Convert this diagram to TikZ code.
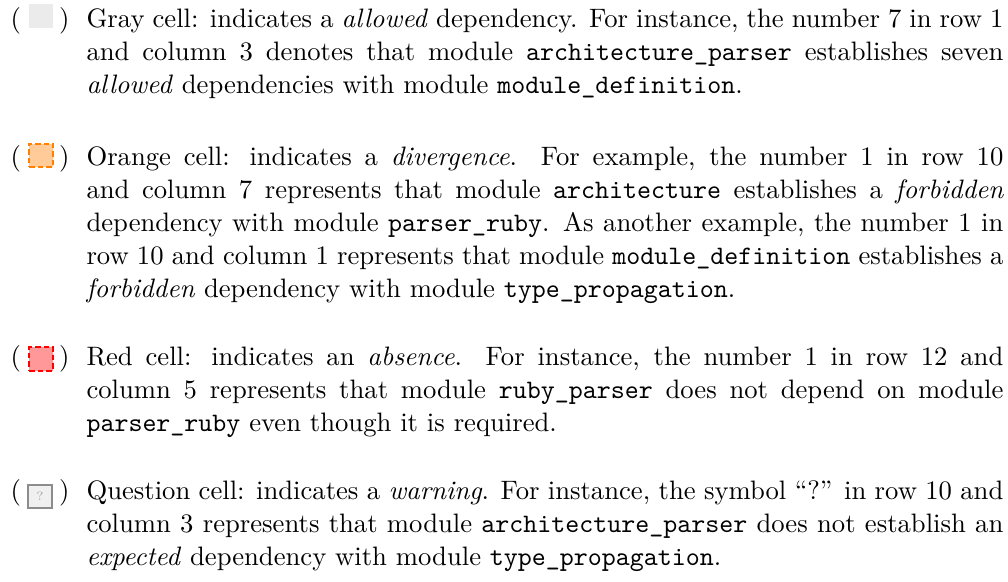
\documentclass[tikz,border=0pt]{standalone}
\usepackage{xcolor}
\usetikzlibrary{positioning}

\definecolor{cellgray}{HTML}{EBEBEB}
\definecolor{divfill}{HTML}{FFCC99}
\definecolor{divline}{HTML}{FF8000}
\definecolor{absfill}{HTML}{FF9999}
\definecolor{absline}{HTML}{FF0000}
\definecolor{warnfill}{HTML}{F0F0F0}
\definecolor{warnline}{HTML}{8C8C8C}

\begin{document}
\begin{tikzpicture}[x=0.3752pt,y=-0.3752pt,
    desc/.style={anchor=base west, inner sep=0pt, text width=344pt, align=justify,
        font=\fontsize{10pt}{12.45pt}\selectfont},
    paren/.style={inner sep=0pt, font=\fontsize{10pt}{12pt}\selectfont},
    cell/.style={inner sep=0pt, minimum size=8.9pt},
    dashcell/.style={cell, line width=0.75pt, dash pattern=on 2.1pt off 1.1pt}]
    \useasboundingbox (0,0) rectangle (1008,582);

    % Gray cell
    \node[paren, anchor=base west] (allowedl) at (10,27) {(};
    \node[paren, anchor=base east] (allowedr) at (70,27) {)};
    \node[cell, fill=cellgray] (allowedcell) at (41,16) {};
    \node[desc] (allowedtxt) at (86,27) {Gray cell: indicates a \emph{allowed} dependency. For instance, the number 7 in row 1\linebreak and column 3 denotes that module \texttt{architecture\_parser} establishes seven \emph{allowed} dependencies with module \texttt{module\_definition}.};

    % Orange cell
    \node[paren, anchor=base west] (divl) at (10,165) {(};
    \node[paren, anchor=base east] (divr) at (70,165) {)};
    \node[dashcell, fill=divfill, draw=divline] (divcell) at (41,155.5) {};
    \node[desc] (divtxt) at (86,165) {Orange cell: indicates a \emph{divergence}. For example, the number 1 in row 10 and column 7 represents that module \texttt{architecture} establishes a \emph{forbidden} dependency with module \texttt{parser\_ruby}. As another example, the number 1 in row 10 and column 1 represents that module \texttt{module\_definition} establishes a \emph{forbidden} dependency with module \texttt{type\_propagation}.};

    % Red cell
    \node[paren, anchor=base west] (absl) at (10,365) {(};
    \node[paren, anchor=base east] (absr) at (70,365) {)};
    \node[dashcell, fill=absfill, draw=absline] (abscell) at (41,359) {};
    \node[desc] (abstxt) at (86,365) {Red cell: indicates an \emph{absence}. For instance, the number 1 in row 12 and column 5 represents that module \texttt{ruby\_parser} does not depend on module \texttt{parser\_ruby} even though it is required.};

    % Question cell
    \node[paren, anchor=base west] (warnl) at (10,499) {(};
    \node[paren, anchor=base east] (warnr) at (70,499) {)};
    \node[cell, fill=warnfill, draw=warnline, line width=0.8pt, text=gray!70,
        font=\fontsize{4.5pt}{5pt}\selectfont] (warncell) at (40,496.5) {?};
    \node[desc] (warntxt) at (86,499) {Question cell: indicates a \emph{warning}. For instance, the symbol ``?'' in row 10 and column 3 represents that module \texttt{architecture\_parser} does not establish an \emph{expected} dependency with module \texttt{type\_propagation}.};
\end{tikzpicture}
\end{document}
